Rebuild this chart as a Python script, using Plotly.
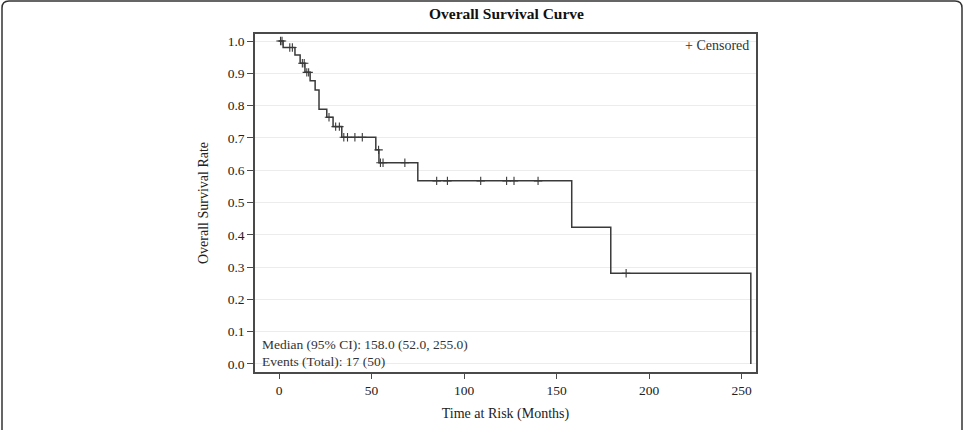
import numpy as np
import plotly.graph_objects as go

# Kaplan-Meier step data
step_times = [0, 2.2, 8.6, 11.4, 14.0, 16.8, 19.5, 21.6, 25.8, 29.2, 33.9, 52.3, 54.0, 75.0, 158.2, 179.3, 255.0]
step_surv = [1.0, 0.98, 0.957, 0.931, 0.903, 0.877, 0.848, 0.789, 0.764, 0.735, 0.702, 0.663, 0.623, 0.567, 0.423, 0.281, 0.0]

# censored observation times
censor_times = [0.8, 1.6, 5.8, 7.2, 12.6, 13.6, 15.0, 16.0, 27.0, 30.6, 32.6, 35.0, 37.0, 41.0, 45.0,
                53.8, 54.8, 56.2, 68.0, 85.2, 91.0, 109.0, 123.0, 127.0, 140.0, 187.6]

x_ticks = [0, 50, 100, 150, 200, 250]
y_ticks = [0.0, 0.1, 0.2, 0.3, 0.4, 0.5, 0.6, 0.7, 0.8, 0.9, 1.0]

title_text = "Overall Survival Curve"
x_title = "Time at Risk (Months)"
y_title = "Overall Survival Rate"
stats_lines = ["Median (95% CI): 158.0 (52.0, 255.0)", "Events (Total): 17 (50)"]
legend_text = "+ Censored"

st = np.array(step_times)
ss = np.array(step_surv)
ct = np.array(censor_times)
idx = np.searchsorted(st, ct, side="right") - 1
censor_surv = ss[idx]

FONT = "Liberation Serif, Times New Roman, serif"
LINE = "#3a3a3a"
AX = "#4a4a4a"

W, H = 965, 430
L, R, T, B = 255, 756, 34, 372

def px_x(p):
    return (p - L) / (R - L)

def px_y(p):
    return (B - p) / (B - T)

fig = go.Figure()
fig.add_trace(go.Scatter(x=step_times, y=step_surv, mode="lines", line_shape="hv",
                         line=dict(color=LINE, width=1.5), showlegend=False, hoverinfo="skip"))
fig.add_trace(go.Scatter(x=censor_times, y=censor_surv, mode="markers",
                         marker=dict(symbol="cross-thin", size=6, line=dict(color=LINE, width=1.1)),
                         showlegend=False, hoverinfo="skip"))

# outer rounded frame
r = 7
x0, x1, y0, y1 = 2, 962, 1, 440
path = (f"M {px_x(x0)},{px_y(y1)} L {px_x(x0)},{px_y(y0 + r)} "
        f"Q {px_x(x0)},{px_y(y0)} {px_x(x0 + r)},{px_y(y0)} "
        f"L {px_x(x1 - r)},{px_y(y0)} Q {px_x(x1)},{px_y(y0)} {px_x(x1)},{px_y(y0 + r)} "
        f"L {px_x(x1)},{px_y(y1)}")

fig.update_layout(
    width=W, height=H,
    margin=dict(l=L, r=W - R, t=T, b=H - B),
    paper_bgcolor="white", plot_bgcolor="white",
    font=dict(family=FONT, color="#222", size=13),
    shapes=[dict(type="path", xref="paper", yref="paper", path=path,
                 line=dict(color="#333", width=1.5), layer="above")],
    annotations=[
        dict(text=f"<b>{title_text}</b>", xref="paper", yref="paper", x=px_x(506), y=px_y(14),
             xanchor="center", yanchor="middle", showarrow=False, font=dict(size=15.5, color="#111")),
        dict(text=legend_text, xref="paper", yref="paper", x=px_x(751), y=px_y(46),
             xanchor="right", yanchor="middle", showarrow=False, font=dict(size=14, color="#333")),
        dict(text=stats_lines[0], xref="paper", yref="paper", x=px_x(260), y=px_y(344),
             xanchor="left", yanchor="middle", showarrow=False, font=dict(size=13.5, color="#333")),
        dict(text=stats_lines[1], xref="paper", yref="paper", x=px_x(260), y=px_y(361),
             xanchor="left", yanchor="middle", showarrow=False, font=dict(size=13.5, color="#333")),
    ],
    xaxis=dict(range=[-13, 257.8], tickvals=x_ticks, ticktext=[str(v) for v in x_ticks],
               showgrid=False, zeroline=False, showline=True, mirror=True, linecolor=AX, linewidth=1.5,
               ticks="outside", ticklen=5, tickcolor=AX, tickwidth=1,
               tickfont=dict(size=13.5, family=FONT, color="#222"),
               title=dict(text=x_title, font=dict(size=14, family=FONT, color="#222"), standoff=11)),
    yaxis=dict(range=[-0.0248, 1.0217], tickvals=y_ticks, ticktext=[f"{v:.1f}" for v in y_ticks],
               showgrid=True, gridcolor="#ececec", gridwidth=1, zeroline=False,
               showline=True, mirror=True, linecolor=AX, linewidth=1.5,
               ticks="outside", ticklen=6, tickcolor=AX, tickwidth=1,
               tickfont=dict(size=13.5, family=FONT, color="#222"),
               title=dict(text=y_title, font=dict(size=14, family=FONT, color="#222"), standoff=16)),
)

fig.write_html("out.html")
